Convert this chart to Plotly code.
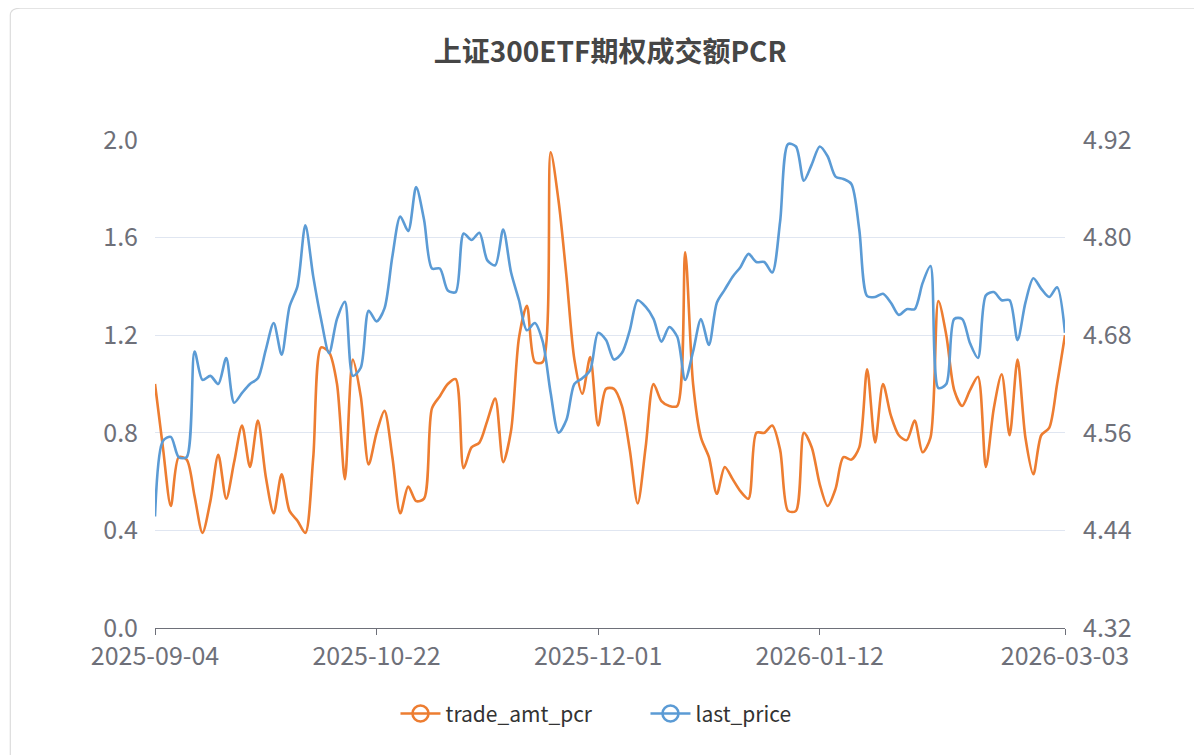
import pandas as pd
import plotly.graph_objects as go

# trading calendar (SSE), holidays removed
HOLIDAYS = ["2025-10-01", "2025-10-02", "2025-10-03", "2025-10-06", "2025-10-07",
            "2025-10-08", "2026-01-01", "2026-01-02", "2026-02-16", "2026-02-17",
            "2026-02-18", "2026-02-19", "2026-02-20"]
days = pd.bdate_range("2025-09-04", "2026-03-03")
dates = [d.strftime("%Y-%m-%d") for d in days if d.strftime("%Y-%m-%d") not in HOLIDAYS]

trade_amt_pcr = [
    1.00, 0.74, 0.50, 0.70, 0.69, 0.54, 0.39, 0.52, 0.71, 0.53,
    0.68, 0.83, 0.66, 0.85, 0.62, 0.47, 0.63, 0.48, 0.44, 0.39,
    0.70, 1.15, 1.13, 1.00, 0.61, 1.10, 0.95, 0.67, 0.80, 0.89,
    0.70, 0.47, 0.58, 0.52, 0.53, 0.90, 0.95, 1.00, 1.02, 0.655,
    0.74, 0.76, 0.85, 0.94, 0.68, 0.81, 1.19, 1.32, 1.09, 1.09,
    1.95, 1.75, 1.44, 1.10, 0.96, 1.11, 0.83, 0.98, 0.98, 0.91,
    0.73, 0.51, 0.74, 1.00, 0.93, 0.91, 0.91, 1.54, 1.00, 0.78,
    0.70, 0.55, 0.66, 0.61, 0.56, 0.53, 0.80, 0.80, 0.83, 0.73,
    0.48, 0.48, 0.80, 0.74, 0.59, 0.50, 0.57, 0.70, 0.69, 0.74,
    1.06, 0.76, 1.00, 0.87, 0.79, 0.77, 0.85, 0.72, 0.78, 1.34,
    1.20, 0.975, 0.91, 0.975, 1.03, 0.66, 0.90, 1.04, 0.79, 1.10,
    0.78, 0.63, 0.79, 0.82, 1.00, 1.20,
]

last_price = [
    4.457, 4.550, 4.555, 4.530, 4.530, 4.660, 4.625, 4.630, 4.620, 4.652,
    4.597, 4.609, 4.620, 4.627, 4.662, 4.695, 4.656, 4.715, 4.740, 4.815,
    4.752, 4.699, 4.658, 4.700, 4.721, 4.630, 4.640, 4.710, 4.697, 4.713,
    4.777, 4.826, 4.808, 4.862, 4.822, 4.762, 4.762, 4.735, 4.733, 4.805,
    4.797, 4.806, 4.772, 4.766, 4.810, 4.757, 4.723, 4.686, 4.695, 4.672,
    4.609, 4.560, 4.576, 4.620, 4.627, 4.637, 4.683, 4.674, 4.650, 4.658,
    4.686, 4.723, 4.715, 4.700, 4.672, 4.690, 4.678, 4.625, 4.660, 4.700,
    4.668, 4.720, 4.736, 4.752, 4.764, 4.780, 4.770, 4.770, 4.757, 4.820,
    4.915, 4.912, 4.870, 4.890, 4.912, 4.900, 4.875, 4.872, 4.866, 4.810,
    4.728, 4.727, 4.731, 4.720, 4.705, 4.712, 4.712, 4.744, 4.765, 4.615,
    4.620, 4.700, 4.700, 4.670, 4.652, 4.729, 4.733, 4.723, 4.723, 4.674,
    4.720, 4.750, 4.737, 4.727, 4.739, 4.683,
]

ORANGE = "#ED7D31"
BLUE = "#5B9BD5"
FONT = "Noto Sans CJK SC"
AXIS_COLOR = "#6E7079"

tick_dates = [dates[0], dates[28], dates[56], dates[84], dates[-1]]

fig = go.Figure()

fig.add_trace(go.Scatter(x=dates, y=trade_amt_pcr, mode="lines", name="trade_amt_pcr",
                         line=dict(color=ORANGE, width=2.6, shape="spline", smoothing=0.8),
                         showlegend=False))
fig.add_trace(go.Scatter(x=dates, y=last_price, mode="lines", name="last_price", yaxis="y2",
                         line=dict(color=BLUE, width=2.6, shape="spline", smoothing=0.8),
                         showlegend=False))

# legend entries drawn like echarts: line with hollow circle
for name, col in [("trade_amt_pcr", ORANGE), ("last_price", BLUE)]:
    fig.add_trace(go.Scatter(x=[None], y=[None], mode="lines+markers", name=name,
                             line=dict(color=col, width=2.6),
                             marker=dict(symbol="circle-open", size=20, color=col,
                                         line=dict(width=2.6, color=col))))

# card border around the chart
fig.add_shape(type="path", xref="paper", yref="paper",
              path="M -0.159,-0.4 L -0.159,1.255 Q -0.159,1.270 -0.148,1.270 L 1.2,1.270",
              line=dict(color="#DCDCDC", width=1.2))

fig.update_layout(
    width=1202, height=755,
    paper_bgcolor="white", plot_bgcolor="white",
    margin=dict(l=147, r=145, t=132, b=135),
    font=dict(family=FONT, color=AXIS_COLOR, size=24),
    title=dict(text="<b>上证300ETF期权成交额PCR</b>", x=0.501, xanchor="center",
               y=1 - 44 / 755, yanchor="middle",
               font=dict(family=FONT, size=28, color="#464646")),
    xaxis=dict(type="category", range=[0, len(dates) - 1],
               tickmode="array", tickvals=tick_dates, ticktext=tick_dates,
               showgrid=False, showline=True, linecolor=AXIS_COLOR, linewidth=1,
               ticks="outside", ticklen=6, tickcolor=AXIS_COLOR,
               tickfont=dict(size=25, color=AXIS_COLOR), zeroline=False),
    yaxis=dict(range=[0, 2.0], tickmode="linear", tick0=0, dtick=0.4, tickformat=".1f",
               showgrid=True, gridcolor="#E0E6F1", gridwidth=1, zeroline=False,
               showline=False, ticks="outside", ticklen=11, tickcolor="rgba(0,0,0,0)",
               tickfont=dict(size=25, color=AXIS_COLOR)),
    yaxis2=dict(range=[4.32, 4.92], tickmode="linear", tick0=4.32, dtick=0.12,
                tickformat=".2f", overlaying="y", side="right", showgrid=False,
                zeroline=False, showline=False, ticks="outside", ticklen=12,
                tickcolor="rgba(0,0,0,0)", tickfont=dict(size=25, color=AXIS_COLOR)),
    legend=dict(orientation="h", x=0.539, xanchor="center", y=-0.176, yanchor="middle",
                font=dict(size=21, color="#333333"), itemwidth=40,
                entrywidth=195, entrywidthmode="pixels",
                bgcolor="rgba(0,0,0,0)"),
    showlegend=True,
)

fig.write_html("out.html")
